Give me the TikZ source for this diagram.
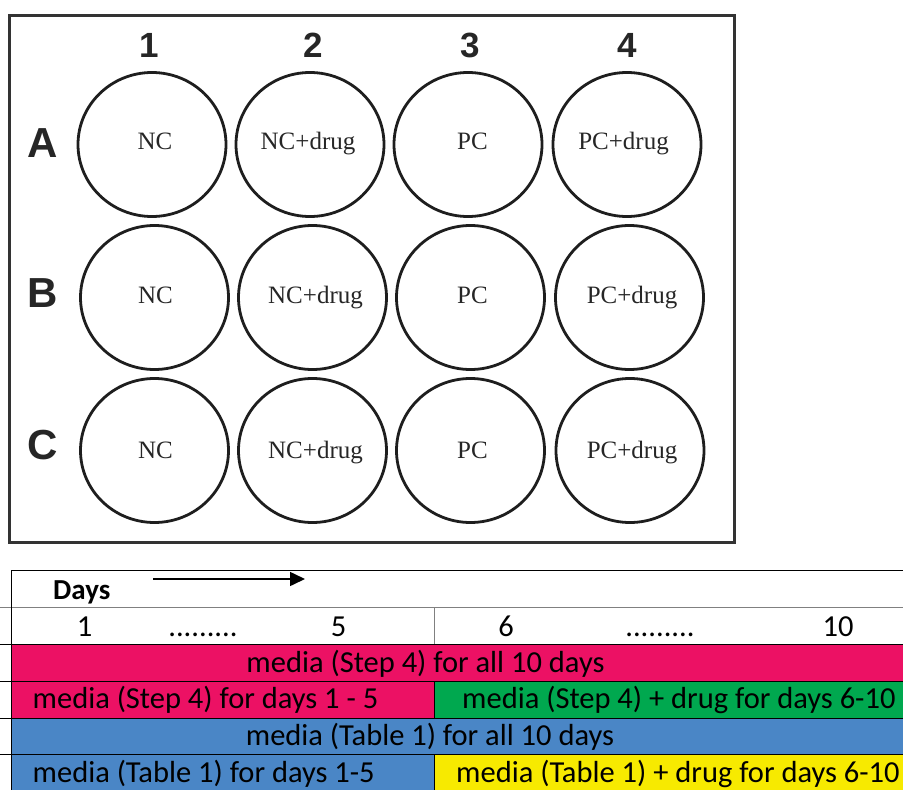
\documentclass[tikz,border=0pt]{standalone}
\usepackage{fontspec}
\setmainfont{Liberation Serif}
\newfontfamily\calfont{Carlito}
\newfontfamily\arialfont{Liberation Sans}
\usetikzlibrary{arrows.meta,shapes.geometric}
\definecolor{pinkband}{HTML}{EC1164}
\definecolor{greenband}{HTML}{00A84F}
\definecolor{blueband}{HTML}{4A86C6}
\definecolor{yellowband}{HTML}{F7EA00}
\definecolor{platecol}{HTML}{333333}
\definecolor{wellcol}{HTML}{1E1E1E}
\definecolor{gridgray}{HTML}{808080}
\tikzset{
  plate/.style={draw=platecol, line width=3pt},
  well/.style={draw=wellcol, line width=2.8pt, ellipse, inner sep=0pt,
    minimum width=148pt, minimum height=144pt},
  welltext/.style={anchor=base, inner sep=0pt, font=\fontsize{25}{30}\selectfont, text=black!85},
  collabel/.style={anchor=base, font=\arialfont\bfseries\fontsize{35}{40}\selectfont, text=black!85},
  rowlabel/.style={anchor=base, font=\arialfont\bfseries\fontsize{42}{48}\selectfont, text=black!85},
  tabtext/.style={font=\calfont\fontsize{30.5}{36}\selectfont, inner sep=0pt, text=black},
  tabline/.style={draw=black, line width=0.9pt},
  grayline/.style={draw=gridgray, line width=0.9pt},
}
\begin{document}
\begin{tikzpicture}[x=1pt,y=-1pt]
\useasboundingbox (0,0) rectangle (903,790);
% plate
\draw[plate] (9,15) rectangle (734,542);
% column labels
\node[collabel] (c1) at (149,57) {1};
\node[collabel] (c2) at (313,57) {2};
\node[collabel] (c3) at (470,57) {3};
\node[collabel] (c4) at (627,57) {4};
% row labels
\node[rowlabel] (rA) at (43,157) {A};
\node[rowlabel] (rB) at (43,307) {B};
\node[rowlabel] (rC) at (43,459) {C};
% wells, row A
\node[well] (A1) at (152,144.5) {};
\node[well] (A2) at (310,144.5) {};
\node[well] (A3) at (468,144.5) {};
\node[well] (A4) at (627,144.5) {};
% wells, row B
\node[well] (B1) at (154.5,297.5) {};
\node[well] (B2) at (312.5,297.5) {};
\node[well] (B3) at (470.5,297.5) {};
\node[well] (B4) at (629.5,297.5) {};
% wells, row C
\node[well] (C1) at (154.5,450.5) {};
\node[well] (C2) at (312.5,450.5) {};
\node[well] (C3) at (470.5,450.5) {};
\node[well] (C4) at (630,450.5) {};
% well texts
\node[welltext] (A1t) at (155,149) {NC};
\node[welltext] (A2t) at (308,149) {NC+drug};
\node[welltext] (A3t) at (472.5,149) {PC};
\node[welltext] (A4t) at (623.5,149) {PC+drug};
\node[welltext] (B1t) at (155.5,303) {NC};
\node[welltext] (B2t) at (315.5,303) {NC+drug};
\node[welltext] (B3t) at (472.5,303) {PC};
\node[welltext] (B4t) at (632,303) {PC+drug};
\node[welltext] (C1t) at (155.5,458) {NC};
\node[welltext] (C2t) at (315.5,458) {NC+drug};
\node[welltext] (C3t) at (472.5,458) {PC};
\node[welltext] (C4t) at (632,458) {PC+drug};
% table bands
\fill[pinkband] (11,644) rectangle (903,681);
\fill[pinkband] (11,681) rectangle (434,718);
\fill[greenband] (434,681) rectangle (903,718);
\fill[blueband] (11,718) rectangle (903,754);
\fill[blueband] (11,754) rectangle (434,790);
\fill[yellowband] (434,754) rectangle (903,790);
% table lines
\draw[tabline] (11,570) -- (903,570);
\draw[grayline] (0,607) -- (903,607);
\draw[tabline] (0,644) -- (903,644);
\draw[tabline] (0,681) -- (903,681);
\draw[tabline] (0,718) -- (903,718);
\draw[tabline] (0,754) -- (903,754);
\draw[tabline] (11,570) -- (11,790);
\draw[grayline] (434,607) -- (434,644);
\draw[tabline] (434,681) -- (434,718);
\draw[tabline] (434,754) -- (434,790);
% days header
\node[tabtext, anchor=base west, font=\calfont\bfseries\fontsize{29}{34}\selectfont] (days) at (53,599) {Days};
\coordinate (arrS) at (153,579);
\coordinate (arrE) at (305,579);
\draw[line width=1.6pt, -{Triangle[length=15pt,width=14pt]}] (arrS) -- (arrE);
% day numbers
\node[tabtext, anchor=base] (d1) at (84.5,636) {1};
\node[tabtext, anchor=base] (dots1) at (203,636) {.........};
\node[tabtext, anchor=base] (d5) at (338.5,636) {5};
\node[tabtext, anchor=base] (d6) at (506,636) {6};
\node[tabtext, anchor=base] (dots2) at (660,636) {.........};
\node[tabtext, anchor=base] (d10) at (838,636) {10};
% band texts
\node[tabtext, anchor=base] (t1) at (425.5,672) {media (Step 4) for all 10 days};
\node[tabtext, anchor=base west] (t2) at (32.5,708) {media (Step 4) for days 1 - 5};
\node[tabtext, anchor=base west] (t3) at (462,708) {media (Step 4) + drug for days 6-10};
\node[tabtext, anchor=base] (t4) at (430,745) {media (Table 1) for all 10 days};
\node[tabtext, anchor=base west] (t5) at (32.5,782) {media (Table 1) for days 1-5};
\node[tabtext, anchor=base west] (t6) at (456,782) {media (Table 1) + drug for days 6-10};
\end{tikzpicture}
\end{document}
